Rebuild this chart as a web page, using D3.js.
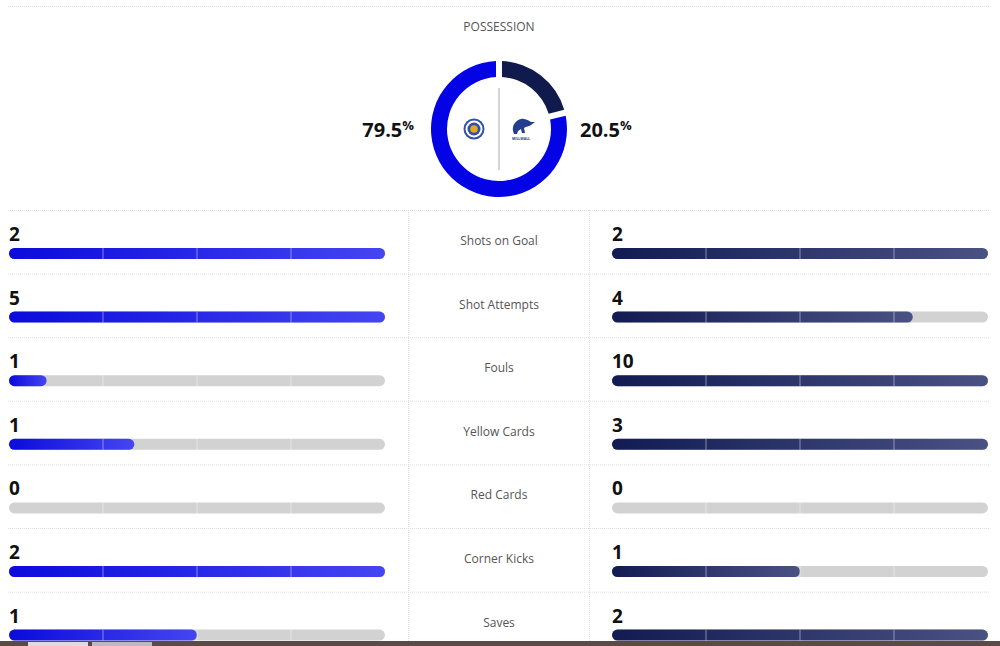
<!DOCTYPE html>
<html>
<head>
<meta charset="utf-8">
<script src="https://cdn.jsdelivr.net/npm/d3@7"></script>
<style>
  html, body { margin: 0; padding: 0; background: #fff; }
  svg { display: block; }
</style>
</head>
<body>
<svg id="chart" width="1000" height="646"></svg>
<script>
// match stats
const categories = ['Shots on Goal', 'Shot Attempts', 'Fouls', 'Yellow Cards', 'Red Cards', 'Corner Kicks', 'Saves'];
const homeValues = [2, 5, 1, 1, 0, 2, 1];
const awayValues = [2, 4, 10, 3, 0, 1, 2];
const possessionLabels = ['away', 'home'];
const possessionValues = [20.5, 79.5];

const W = 1000, H = 646;
const svg = d3.select('#chart');
const font = '"Open Sans", "Liberation Sans", sans-serif';
const gridColor = '#dedede';

const defs = svg.append('defs');
const addGrad = (id, c0, c1) => {
    const g = defs.append('linearGradient').attr('id', id)
        .attr('x1', '0%').attr('x2', '100%').attr('y1', '0%').attr('y2', '0%');
    g.append('stop').attr('offset', '0%').attr('stop-color', c0);
    g.append('stop').attr('offset', '100%').attr('stop-color', c1);
};
addGrad('homeGrad', '#0b0bdc', '#4545f2');
addGrad('awayGrad', '#121b52', '#4a5284');

// top rule
svg.append('line')
    .attr('x1', 8).attr('x2', 990).attr('y1', 6.5).attr('y2', 6.5)
    .attr('stroke', gridColor).attr('stroke-dasharray', '1,1');

svg.append('text')
    .attr('x', 499).attr('y', 31)
    .attr('text-anchor', 'middle')
    .attr('font-family', font).attr('font-size', 12)
    .attr('fill', '#555')
    .text('POSSESSION');

// possession donut
const cx = 499, cy = 129;
const pie = d3.pie().sort(null).padAngle(0.07);
const arc = d3.arc().innerRadius(52).outerRadius(68);
const donut = svg.append('g').attr('transform', `translate(${cx},${cy})`);
donut.selectAll('path')
    .data(pie(possessionValues))
    .enter()
    .append('path')
    .attr('d', arc)
    .attr('fill', (d, i) => possessionLabels[i] === 'home' ? '#0303e6' : '#101a4c');

donut.append('line')
    .attr('x1', 0).attr('x2', 0).attr('y1', -41).attr('y2', 41)
    .attr('stroke', '#aaa').attr('stroke-width', 1);

// home crest (rough)
const crest = donut.append('g').attr('transform', 'translate(-25,0)');
crest.append('circle').attr('r', 10.5).attr('fill', '#3550a8');
crest.append('circle').attr('r', 8.5).attr('fill', '#fff');
crest.append('circle').attr('r', 6.5).attr('fill', '#2e4fb0');
crest.append('circle').attr('r', 3.8).attr('fill', '#e8a81c');

// away crest (rough lion + name)
const lion = donut.append('g').attr('transform', 'translate(22,-3)');
lion.append('path')
    .attr('d', 'M-8,5 C-9,-1 -5,-6 0,-7 C4,-8 8,-5 10,-4 L14,-4 L10,-1 C8,1 5,0 3,2 L4,7 L1,7 L0,3 L-3,5 L-4,8 L-7,8 Z')
    .attr('fill', '#233e8f');
lion.append('text')
    .attr('x', 0).attr('y', 14)
    .attr('text-anchor', 'middle')
    .attr('font-family', font).attr('font-size', 3.5).attr('font-weight', 700)
    .attr('fill', '#233e8f')
    .text('MILLWALL');

const pctText = (x, anchor, v) => {
    const t = svg.append('text')
        .attr('x', x).attr('y', 137)
        .attr('text-anchor', anchor)
        .attr('font-family', font).attr('font-weight', 700)
        .attr('fill', '#111');
    t.append('tspan').attr('font-size', 20).text(v.toFixed(1));
    t.append('tspan').attr('font-size', 13).attr('dy', -7).text('%');
};
pctText(414, 'end', possessionValues[1]);
pctText(580, 'start', possessionValues[0]);

// stat rows
const y = d3.scaleBand().domain(categories).range([210, 210 + 63.6 * categories.length]);
const leftX = d3.scaleLinear().domain([0, 1]).range([9, 385]);
const rightX = d3.scaleLinear().domain([0, 1]).range([612, 988]);
const barH = 11;

svg.append('line')
    .attr('x1', 8).attr('x2', 990).attr('y1', 210.5).attr('y2', 210.5)
    .attr('stroke', gridColor).attr('stroke-dasharray', '1,1');

[408.5, 589.5].forEach(x => {
    svg.append('line')
        .attr('x1', x).attr('x2', x).attr('y1', 210).attr('y2', H)
        .attr('stroke', gridColor).attr('stroke-dasharray', '1,1');
});

const rows = svg.selectAll('.row')
    .data(categories)
    .enter()
    .append('g')
    .attr('class', 'row')
    .attr('transform', d => `translate(0,${y(d)})`);

rows.append('line')
    .attr('x1', 8).attr('x2', 990)
    .attr('y1', y.bandwidth() + 0.5).attr('y2', y.bandwidth() + 0.5)
    .attr('stroke', gridColor).attr('stroke-dasharray', '1,1');

rows.append('text')
    .attr('x', 499).attr('y', 35)
    .attr('text-anchor', 'middle')
    .attr('font-family', font).attr('font-size', 12)
    .attr('fill', '#555')
    .text(d => d);

const drawSide = (g, i, xs, value, other, grad) => {
    const max = Math.max(value, other);
    const frac = max > 0 ? value / max : 0;
    const x0 = xs(0), x1 = xs(1);
    g.append('text')
        .attr('x', x0).attr('y', 31)
        .attr('font-family', font).attr('font-size', 19).attr('font-weight', 700)
        .attr('fill', '#111')
        .text(value);
    g.append('rect')
        .attr('x', x0).attr('y', 38)
        .attr('width', x1 - x0).attr('height', barH)
        .attr('rx', barH / 2)
        .attr('fill', '#d2d2d2');
    if (frac > 0) {
        g.append('rect')
            .attr('x', x0).attr('y', 38)
            .attr('width', xs(frac) - x0).attr('height', barH)
            .attr('rx', barH / 2)
            .attr('fill', `url(#${grad})`);
    }
    [0.25, 0.5, 0.75].forEach(q => {
        g.append('line')
            .attr('x1', xs(q)).attr('x2', xs(q))
            .attr('y1', 38).attr('y2', 38 + barH)
            .attr('stroke', '#fff').attr('stroke-opacity', 0.45).attr('stroke-width', 1);
    });
};

rows.each(function(d, i) {
    const g = d3.select(this);
    drawSide(g, i, leftX, homeValues[i], awayValues[i], 'homeGrad');
    drawSide(g, i, rightX, awayValues[i], homeValues[i], 'awayGrad');
});

// window strip at the bottom of the screenshot
svg.append('rect').attr('x', 0).attr('y', 641).attr('width', W).attr('height', 5).attr('fill', '#5b4b46');
svg.append('rect').attr('x', 28).attr('y', 642).attr('width', 60).attr('height', 4).attr('fill', '#ddd');
svg.append('rect').attr('x', 92).attr('y', 642).attr('width', 60).attr('height', 4).attr('fill', '#bbb');
</script>
</body>
</html>
